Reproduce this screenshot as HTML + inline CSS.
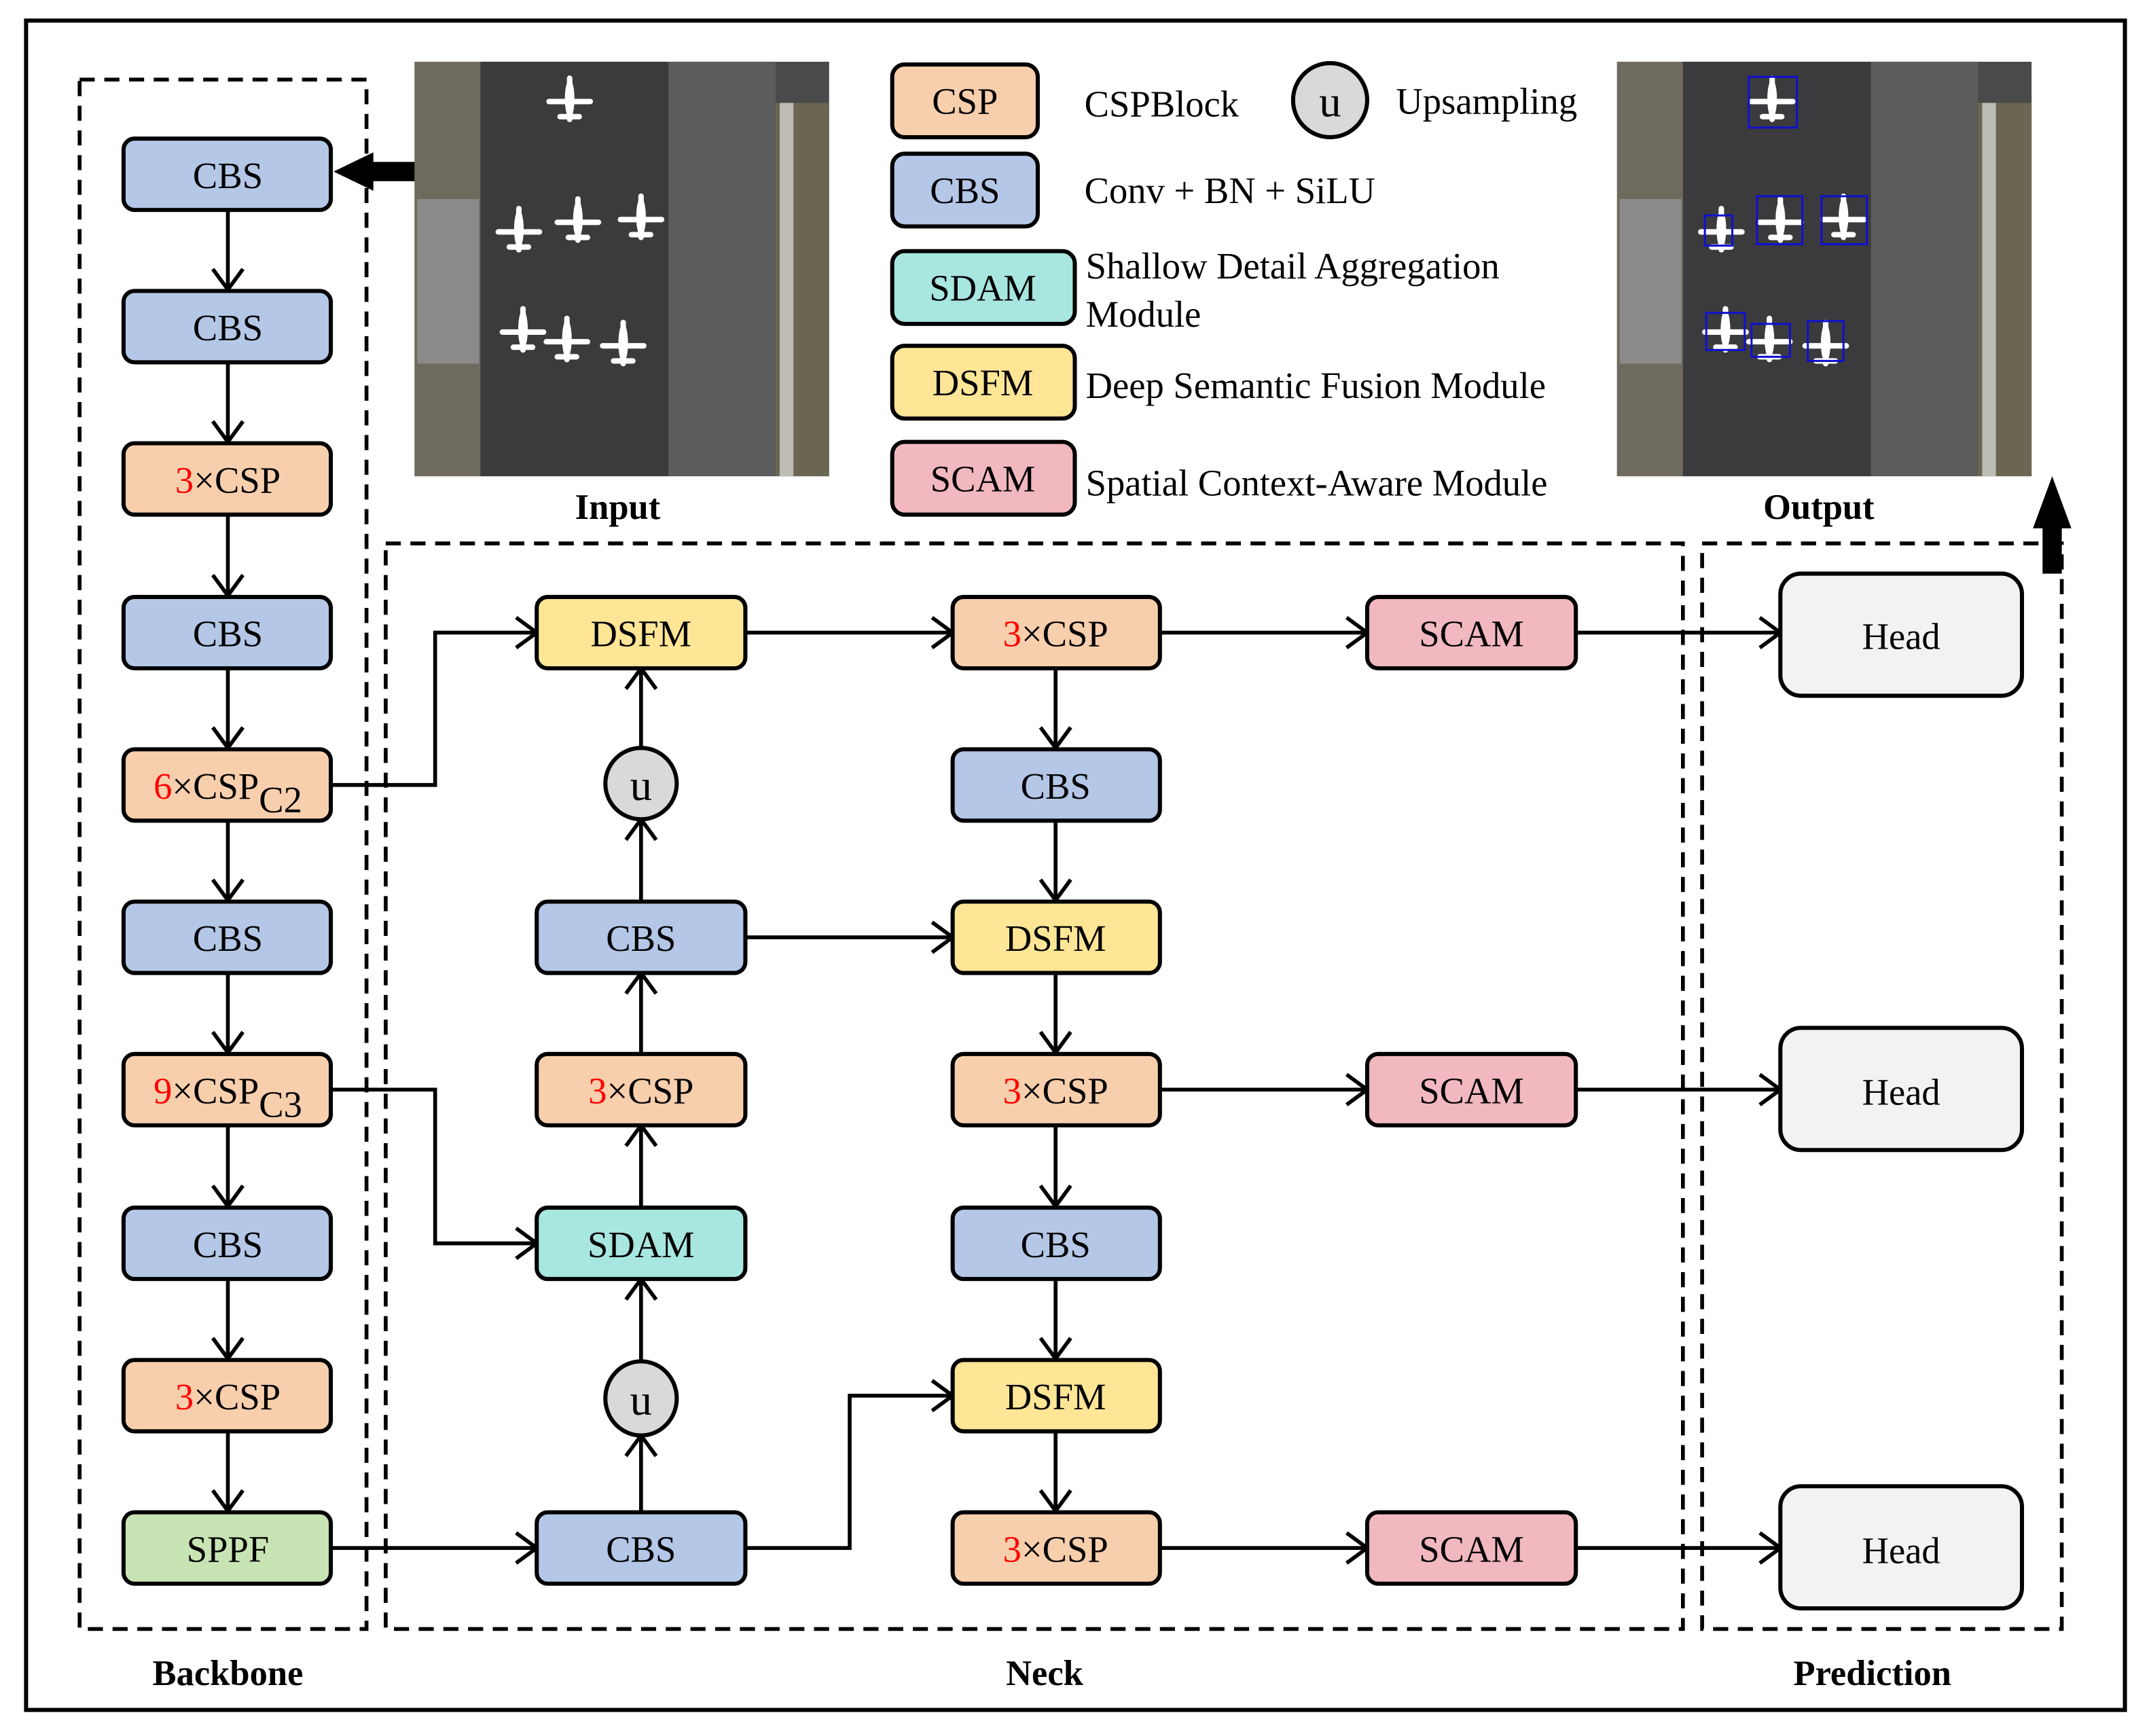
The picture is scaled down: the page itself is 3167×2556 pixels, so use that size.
<!DOCTYPE html>
<html><head><meta charset="utf-8"><style>
html,body{margin:0;padding:0;background:#fff}
svg{display:block}
text{font-family:"Liberation Serif",serif}
</style></head><body>
<svg width="3167" height="2556" viewBox="0 0 1567 1265" preserveAspectRatio="none" xmlns="http://www.w3.org/2000/svg">
<defs>
<marker id="a" markerUnits="userSpaceOnUse" markerWidth="22" markerHeight="28" refX="19" refY="14" orient="auto">
<path d="M4,3 L19,14 L4,25" fill="none" stroke="#000" stroke-width="2.8"/>
</marker>
<g id="plane"><path d="M0,-15 L0,15 M-15,2 L15,2 M-7,13 L7,13" stroke="#fff" stroke-width="4" fill="none" stroke-linecap="round"/><ellipse cx="0" cy="0" rx="3.5" ry="14" fill="#fff"/></g>
<g id="img">
<rect x="0" y="0" width="302" height="302" fill="#4a4a4a"/>
<rect x="0" y="0" width="50" height="302" fill="#6e6a5e"/>
<rect x="2" y="100" width="45" height="120" fill="#8a8a8a"/>
<rect x="48" y="0" width="137" height="302" fill="#3b3b3d"/>
<rect x="185" y="0" width="78" height="302" fill="#5c5c5c"/>
<rect x="263" y="30" width="39" height="272" fill="#6b6652"/>
<rect x="266" y="30" width="10" height="272" fill="#bdbdb5"/>
<use href="#plane" x="113" y="27"/><use href="#plane" x="76" y="122"/><use href="#plane" x="119" y="115"/><use href="#plane" x="165" y="113"/><use href="#plane" x="79" y="195"/><use href="#plane" x="111" y="202"/><use href="#plane" x="152" y="205"/>
</g>
</defs>
<rect x="19" y="15" width="1529" height="1231" fill="none" stroke="#000" stroke-width="3"/>
<g fill="none" stroke="#000" stroke-width="2.8" stroke-dasharray="11,7">
<rect x="58" y="58" width="209" height="1129"/>
<rect x="281" y="396" width="945" height="791"/>
<rect x="1240" y="396" width="262" height="791"/>
</g>
<use href="#img" x="302" y="45"/>
<use href="#img" x="1178" y="45"/>
<g fill="none" stroke="#1010d0" stroke-width="1.5">
<rect x="1274" y="56" width="35" height="37"/><rect x="1242" y="157" width="20" height="22"/><rect x="1280" y="143" width="33" height="35"/><rect x="1327" y="143" width="33" height="35"/><rect x="1243" y="228" width="28" height="27"/><rect x="1276" y="236" width="28" height="24"/><rect x="1317" y="234" width="26" height="29"/>
</g>
<g font-weight="bold" font-size="26" text-anchor="middle">
<text x="450" y="378">Input</text><text x="1325" y="378">Output</text>
<text x="166" y="1228">Backbone</text><text x="761" y="1228">Neck</text><text x="1364" y="1228">Prediction</text>
</g>
<path d="M302,125 L268,125" stroke="#000" stroke-width="14"/>
<path d="M243,125 L272,111 L272,139 Z" fill="#000"/>
<path d="M1495,418 L1495,382" stroke="#000" stroke-width="14"/>
<path d="M1495,347 L1481,385 L1509,385 Z" fill="#000"/>
<g fill="none" stroke="#000" stroke-width="2.8" marker-end="url(#a)">
<path d="M166,153 V211"/><path d="M166,264 V322"/><path d="M166,375 V434"/><path d="M166,487 V545"/><path d="M166,598 V656"/><path d="M166,709 V767"/><path d="M166,820 V879"/><path d="M166,932 V990"/><path d="M166,1043 V1101"/>
<path d="M241,572 H317 V461 H391"/>
<path d="M241,794 H317 V906 H391"/>
<path d="M241,1128 H391"/>
<path d="M467,1101 V1046"/><path d="M467,993 V932"/><path d="M467,879 V820"/><path d="M467,767 V709"/><path d="M467,656 V597"/><path d="M467,545 V487"/>
<path d="M543,461 H694"/><path d="M543,683 H694"/><path d="M543,1128 H619 V1017 H694"/>
<path d="M769,487 V545"/><path d="M769,598 V656"/><path d="M769,709 V767"/><path d="M769,820 V879"/><path d="M769,932 V990"/><path d="M769,1043 V1101"/>
<path d="M845,461 H996"/><path d="M845,794 H996"/><path d="M845,1128 H996"/>
<path d="M1148,461 H1297"/><path d="M1148,794 H1297"/><path d="M1148,1128 H1297"/>
</g>
<g stroke="#000" stroke-width="3">
<rect x="90" y="101" width="151" height="52" rx="8" fill="#b4c7e7"/>
<rect x="90" y="212" width="151" height="52" rx="8" fill="#b4c7e7"/>
<rect x="90" y="323" width="151" height="52" rx="8" fill="#f8cfad"/>
<rect x="90" y="435" width="151" height="52" rx="8" fill="#b4c7e7"/>
<rect x="90" y="546" width="151" height="52" rx="8" fill="#f8cfad"/>
<rect x="90" y="657" width="151" height="52" rx="8" fill="#b4c7e7"/>
<rect x="90" y="768" width="151" height="52" rx="8" fill="#f8cfad"/>
<rect x="90" y="880" width="151" height="52" rx="8" fill="#b4c7e7"/>
<rect x="90" y="991" width="151" height="52" rx="8" fill="#f8cfad"/>
<rect x="90" y="1102" width="151" height="52" rx="8" fill="#c9e4b4"/>
<rect x="391" y="435" width="152" height="52" rx="8" fill="#ffe596"/>
<circle cx="467" cy="571" r="26" fill="#d9d9d9"/>
<rect x="391" y="657" width="152" height="52" rx="8" fill="#b4c7e7"/>
<rect x="391" y="768" width="152" height="52" rx="8" fill="#f8cfad"/>
<rect x="391" y="880" width="152" height="52" rx="8" fill="#a8e6e0"/>
<ellipse cx="467" cy="1019" rx="26" ry="27" fill="#d9d9d9"/>
<rect x="391" y="1102" width="152" height="52" rx="8" fill="#b4c7e7"/>
<rect x="694" y="435" width="151" height="52" rx="8" fill="#f8cfad"/>
<rect x="694" y="546" width="151" height="52" rx="8" fill="#b4c7e7"/>
<rect x="694" y="657" width="151" height="52" rx="8" fill="#ffe596"/>
<rect x="694" y="768" width="151" height="52" rx="8" fill="#f8cfad"/>
<rect x="694" y="880" width="151" height="52" rx="8" fill="#b4c7e7"/>
<rect x="694" y="991" width="151" height="52" rx="8" fill="#ffe596"/>
<rect x="694" y="1102" width="151" height="52" rx="8" fill="#f8cfad"/>
<rect x="996" y="435" width="152" height="52" rx="8" fill="#f2b8c0"/>
<rect x="996" y="768" width="152" height="52" rx="8" fill="#f2b8c0"/>
<rect x="996" y="1102" width="152" height="52" rx="8" fill="#f2b8c0"/>
<rect x="1297" y="418" width="176" height="89" rx="15" fill="#f2f2f2"/>
<rect x="1297" y="749" width="176" height="89" rx="15" fill="#f2f2f2"/>
<rect x="1297" y="1083" width="176" height="89" rx="15" fill="#f2f2f2"/>
<rect x="650" y="47" width="106" height="53" rx="9" fill="#f8cfad"/>
<rect x="650" y="112" width="106" height="53" rx="9" fill="#b4c7e7"/>
<rect x="650" y="183" width="133" height="53" rx="9" fill="#a8e6e0"/>
<rect x="650" y="252" width="133" height="53" rx="9" fill="#ffe596"/>
<rect x="650" y="322" width="133" height="53" rx="9" fill="#f2b8c0"/>
<ellipse cx="969" cy="73" rx="27" ry="27" fill="#d9d9d9"/>
</g>
<g font-size="27" text-anchor="middle">
<text x="166" y="137">CBS</text><text x="166" y="248">CBS</text>
<text x="166" y="359"><tspan fill="#f00">3</tspan>×CSP</text>
<text x="166" y="471">CBS</text>
<text x="166" y="582"><tspan fill="#f00">6</tspan>×CSP<tspan dy="10">C2</tspan></text>
<text x="166" y="693">CBS</text>
<text x="166" y="804"><tspan fill="#f00">9</tspan>×CSP<tspan dy="10">C3</tspan></text>
<text x="166" y="916">CBS</text>
<text x="166" y="1027"><tspan fill="#f00">3</tspan>×CSP</text>
<text x="166" y="1138">SPPF</text>
<text x="467" y="471">DSFM</text><text x="467" y="583" font-size="32">u</text>
<text x="467" y="693">CBS</text><text x="467" y="804"><tspan fill="#f00">3</tspan>×CSP</text>
<text x="467" y="916">SDAM</text><text x="467" y="1031" font-size="32">u</text><text x="467" y="1138">CBS</text>
<text x="769" y="471"><tspan fill="#f00">3</tspan>×CSP</text><text x="769" y="582">CBS</text><text x="769" y="693">DSFM</text>
<text x="769" y="804"><tspan fill="#f00">3</tspan>×CSP</text><text x="769" y="916">CBS</text><text x="769" y="1027">DSFM</text>
<text x="769" y="1138"><tspan fill="#f00">3</tspan>×CSP</text>
<text x="1072" y="471">SCAM</text><text x="1072" y="804">SCAM</text><text x="1072" y="1138">SCAM</text>
<text x="1385" y="473">Head</text><text x="1385" y="805">Head</text><text x="1385" y="1139">Head</text>
<text x="703" y="83">CSP</text><text x="703" y="148">CBS</text><text x="716" y="219">SDAM</text><text x="716" y="288">DSFM</text><text x="716" y="358">SCAM</text>
<text x="969" y="85" font-size="32">u</text>
</g>
<g font-size="27">
<text x="790" y="85">CSPBlock</text>
<text x="1017" y="83">Upsampling</text>
<text x="790" y="148">Conv + BN + SiLU</text>
<text x="791" y="203">Shallow Detail Aggregation</text>
<text x="791" y="238">Module</text>
<text x="791" y="290">Deep Semantic Fusion Module</text>
<text x="791" y="361">Spatial Context-Aware Module</text>
</g>
</svg>
</body></html>
